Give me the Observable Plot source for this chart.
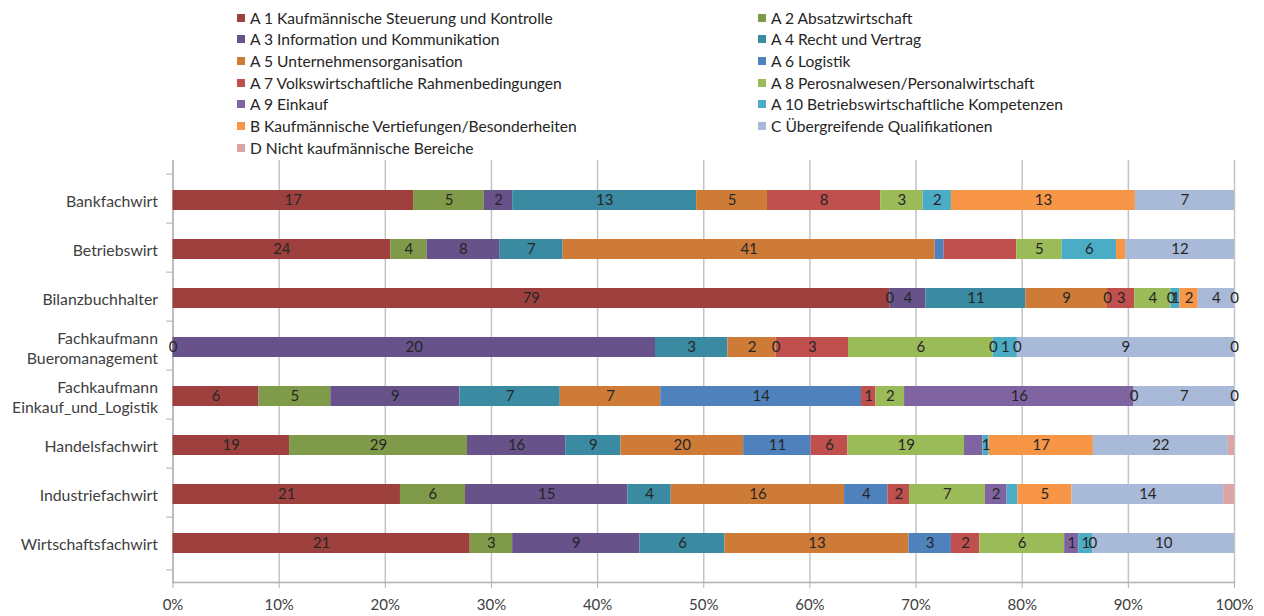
<!DOCTYPE html>
<html>
<head>
<meta charset="utf-8">
<script src="https://cdn.jsdelivr.net/npm/d3@7"></script>
<script src="https://cdn.jsdelivr.net/npm/@observablehq/plot@0.6"></script>
<style>
  html, body { margin: 0; padding: 0; background: #fff; width: 1264px; height: 616px; overflow: hidden; }
  body { font-family: Lato, "Open Sans", sans-serif; position: relative; }
  #legend { position: absolute; left: 237px; top: 7px; display: grid; grid-template-columns: 521px 440px; grid-auto-rows: 21.65px; font-size: 15.6px; color: #262626; }
  #legend .item { display: flex; align-items: center; white-space: nowrap; height: 21.65px; }
  #legend .sw { width: 8px; height: 8px; margin-right: 5px; flex: none; }
  #chart { position: absolute; left: 0; top: 155px; }
</style>
</head>
<body>
<div id="legend"></div>
<div id="chart"></div>
<script>
// Categories (rows, top to bottom)
const rows = ["Bankfachwirt", "Betriebswirt", "Bilanzbuchhalter", "Fachkaufmann Bueromanagement",
  "Fachkaufmann Einkauf_und_Logistik", "Handelsfachwirt", "Industriefachwirt", "Wirtschaftsfachwirt"];

// Series names (legend order)
const series = ["A 1 Kaufmännische Steuerung und Kontrolle", "A 2 Absatzwirtschaft",
  "A 3 Information und Kommunikation", "A 4 Recht und Vertrag",
  "A 5 Unternehmensorganisation", "A 6 Logistik",
  "A 7 Volkswirtschaftliche Rahmenbedingungen", "A 8 Perosnalwesen/Personalwirtschaft",
  "A 9 Einkauf", "A 10 Betriebswirtschaftliche Kompetenzen",
  "B Kaufmännische Vertiefungen/Besonderheiten", "C Übergreifende Qualifikationen",
  "D Nicht kaufmännische Bereiche"];

const colors = ["#9e413e", "#7f9a48", "#67528a", "#3a8aa2", "#cf7b38", "#4f81bd", "#c0504d",
  "#9bbb59", "#8064a2", "#4bacc6", "#f79646", "#a9b9d8", "#daa5a4"];

// Series values per row (null = no entry)
const A1  = [17, 24, 79, 0, 6, 19, 21, 21];
const A2  = [5, 4, 0, null, 5, 29, 6, 3];
const A3  = [2, 8, 4, 20, 9, 16, 15, 9];
const A4  = [13, 7, 11, 3, 7, 9, 4, 6];
const A5  = [5, 41, 9, 2, 7, 20, 16, 13];
const A6  = [null, 1, 0, 0, 14, 11, 4, 3];
const A7  = [8, 8, 3, 3, 1, 6, 2, 2];
const A8  = [3, 5, 4, 6, 2, 19, 7, 6];
const A9  = [null, null, 0, 0, 16, 3, 2, 1];
const A10 = [2, 6, 1, 1, 0, 1, 1, 1];
const B   = [13, 1, 2, 0, null, 17, 5, 0];
const C   = [7, 12, 4, 9, 7, 22, 14, 10];
const D   = [null, null, 0, 0, 0, 1, 1, null];

// Segments whose value label is not shown
const unlabeled = [["Betriebswirt", 5], ["Betriebswirt", 6], ["Betriebswirt", 10],
  ["Handelsfachwirt", 8], ["Handelsfachwirt", 12], ["Industriefachwirt", 9], ["Industriefachwirt", 12]];

const xTicks = [0, 0.1, 0.2, 0.3, 0.4, 0.5, 0.6, 0.7, 0.8, 0.9, 1];

const valueLists = [A1, A2, A3, A4, A5, A6, A7, A8, A9, A10, B, C, D];
const data = [];
rows.forEach((row, i) => {
  valueLists.forEach((list, j) => {
    const v = list[i];
    if (v !== null && v !== undefined) {
      const hidden = unlabeled.some(([r, s]) => r === row && s === j);
      data.push({row, series: series[j], value: v, label: hidden ? "" : String(v)});
    }
  });
});

// Legend
const legend = document.getElementById("legend");
series.forEach((s, j) => {
  const item = document.createElement("div");
  item.className = "item";
  const sw = document.createElement("span");
  sw.className = "sw";
  sw.style.background = colors[j];
  const t = document.createElement("span");
  t.textContent = s;
  item.appendChild(sw); item.appendChild(t);
  legend.appendChild(item);
});

// Chart
const H = 461, mTop = 5, mBottom = 34;
const step = (H - mTop - mBottom) / rows.length;
const fmtRow = d => d.replace("Fachkaufmann ", "Fachkaufmann\n");

const chart = Plot.plot({
  width: 1264,
  height: H,
  marginLeft: 172.5,
  marginRight: 30,
  marginTop: mTop,
  marginBottom: mBottom,
  style: {fontFamily: "Lato, 'Open Sans', sans-serif", background: "transparent"},
  x: {domain: [0, 1], axis: null, label: null},
  y: {domain: rows, padding: 0.6, axis: null, label: null},
  color: {domain: series, range: colors},
  marks: [
    Plot.ruleX(xTicks, {stroke: "#c4c4c4", strokeWidth: 1.5}),
    Plot.frame({anchor: "bottom", stroke: "#b0b0b0", strokeWidth: 1.5}),
    Plot.ruleX([0], {stroke: "#b0b0b0", strokeWidth: 1.2}),
    Plot.ruleY(rows, {y: d => d, x1: -0.006, x2: 0, dy: -step / 2, stroke: "#b0b0b0"}),
    Plot.ruleY(rows.slice(-1), {y: d => d, x1: -0.006, x2: 0, dy: step / 2, stroke: "#b0b0b0"}),
    Plot.barX(data, Plot.stackX({x: "value", y: "row", fill: "series", offset: "normalize"})),
    Plot.textX(data, Plot.stackX({x: "value", y: "row", z: "series", text: "label", offset: "normalize",
      fill: "#262626", fontSize: 15})),
    Plot.axisX(xTicks, {tickFormat: d3.format(".0%"), tickSize: 6, tickPadding: 11, stroke: "#b0b0b0",
      fill: "#404040", fontSize: 15, label: null}),
    Plot.axisY({tickFormat: fmtRow, tickSize: 0, tickPadding: 15, fill: "#404040", fontSize: 15.8,
      lineHeight: 1.3, label: null})
  ]
});
document.getElementById("chart").appendChild(chart);
</script>
</body>
</html>
